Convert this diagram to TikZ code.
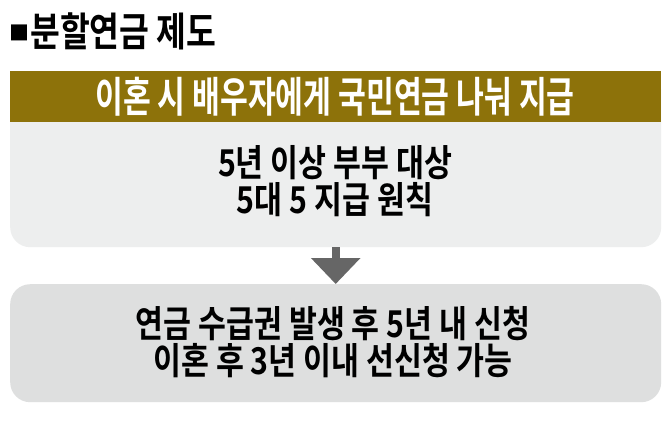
\documentclass[tikz,border=0pt]{standalone}
\usepackage{fontspec}
\usetikzlibrary{arrows.meta}
\newfontfamily\kr{Noto Sans CJK KR Bold}
\definecolor{hdrgold}{HTML}{8D720A}
\definecolor{topgray}{HTML}{EDEEEE}
\definecolor{botgray}{HTML}{DEDFDF}
\definecolor{arrgray}{HTML}{666666}
\newcommand{\cond}[2]{\scalebox{#1}[1]{#2}}
\tikzset{
  txt/.style={inner sep=0pt, font=\kr, align=center},
  boxstyle/.style={rounded corners=20pt, inner sep=0pt},
}
\begin{document}
\begin{tikzpicture}[x=1pt,y=-1pt]
\useasboundingbox[fill=white] (0,0) rectangle (670,424);
% top box body
\node[boxstyle, fill=topgray, minimum width=651pt, minimum height=176pt, anchor=north west] (topbox) at (10,71) {};
% header bar
\node[fill=hdrgold, minimum width=651pt, minimum height=51pt, inner sep=0pt, anchor=north west] (hdr) at (10,71) {};
\node[txt, text=white, font=\kr\fontsize{42}{42}\selectfont] (hdrtxt) at (335,97) {\cond{0.72}{이혼 시 배우자에게 국민연금 나눠 지급}};
% bottom box
\node[boxstyle, fill=botgray, minimum width=651pt, minimum height=118pt, anchor=north west] (botbox) at (10,284) {};
% title
\node[txt, anchor=west, font=\kr\fontsize{20}{20}\selectfont] (sq) at (9,33) {■};
\node[txt, anchor=west, font=\kr\fontsize{40}{40}\selectfont] (title) at (30,31) {\cond{0.81}{분할연금 제도}};
% body texts
\node[txt, font=\kr\fontsize{37}{37}\selectfont] (toptxt) at (335,181) {\cond{0.82}{5년 이상 부부 대상}\\\cond{0.82}{5대 5 지급 원칙}};
\node[txt, font=\kr\fontsize{37}{37}\selectfont] (bottxt) at (333,342) {\cond{0.82}{연금 수급권 발생 후 5년 내 신청}\\\cond{0.82}{이혼 후 3년 이내 선신청 가능}};
% arrow
\draw[arrgray, line width=8pt, -{Triangle[width=48pt,length=26pt]}] (topbox.south) -- (botbox.north);
\end{tikzpicture}
\end{document}
